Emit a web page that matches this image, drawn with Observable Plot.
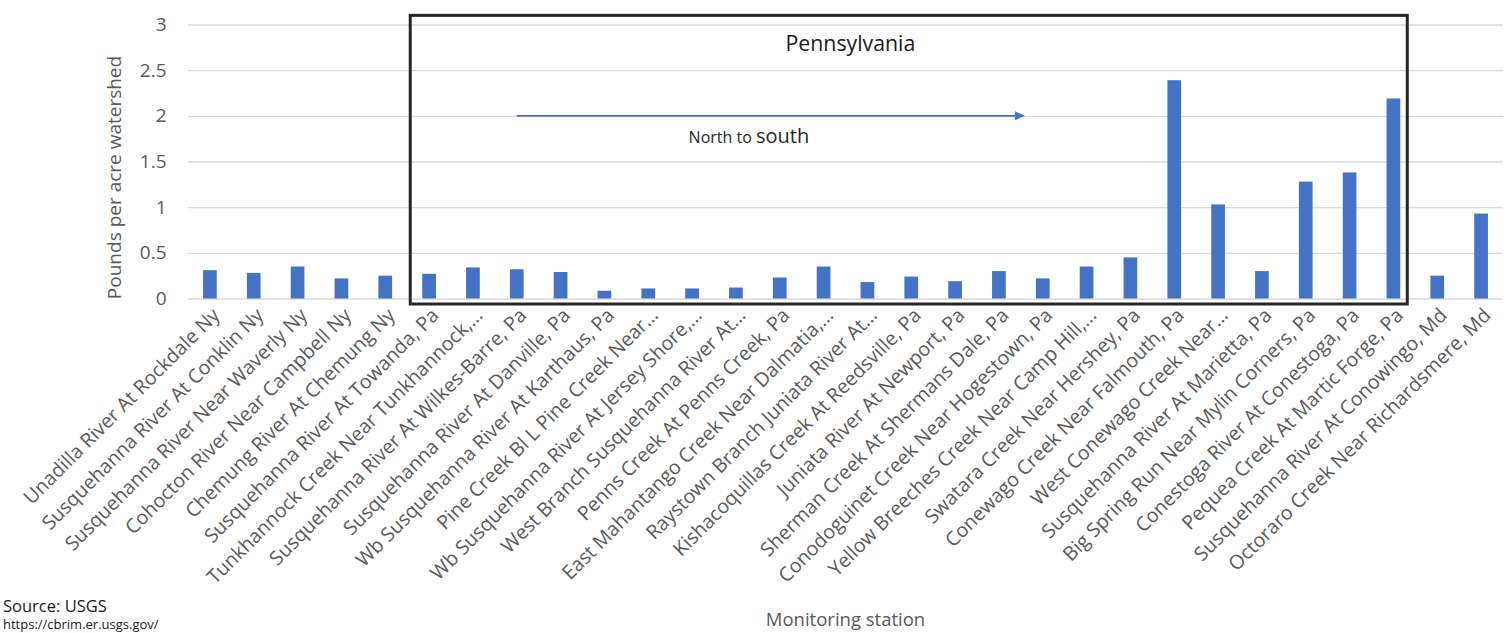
<!DOCTYPE html>
<html><head><meta charset="utf-8">
<script src="https://cdn.jsdelivr.net/npm/d3@7"></script>
<script src="https://cdn.jsdelivr.net/npm/@observablehq/plot@0.6"></script>
<style>
body{margin:0;background:#fff;}
#chart{position:relative;width:1510px;height:633px;overflow:hidden;}
</style></head><body><div id="chart"></div>
<script>
const stations = [
  "Unadilla River At Rockdale Ny",
  "Susquehanna River At Conklin Ny",
  "Susquehanna River Near Waverly Ny",
  "Cohocton River Near Campbell Ny",
  "Chemung River At Chemung Ny",
  "Susquehanna River At Towanda, Pa",
  "Tunkhannock Creek Near Tunkhannock,…",
  "Susquehanna River At Wilkes-Barre, Pa",
  "Susquehanna River At Danville, Pa",
  "Wb Susquehanna River At Karthaus, Pa",
  "Pine Creek Bl L Pine Creek Near…",
  "Wb Susquehanna River At Jersey Shore,…",
  "West Branch Susquehanna River At…",
  "Penns Creek At Penns Creek, Pa",
  "East Mahantango Creek Near Dalmatia,…",
  "Raystown Branch Juniata River At…",
  "Kishacoquillas Creek At Reedsville, Pa",
  "Juniata River At Newport, Pa",
  "Sherman Creek At Shermans Dale, Pa",
  "Conodoguinet Creek Near Hogestown, Pa",
  "Yellow Breeches Creek Near Camp Hill,…",
  "Swatara Creek Near Hershey, Pa",
  "Conewago Creek Near Falmouth, Pa",
  "West Conewago Creek Near…",
  "Susquehanna River At Marietta, Pa",
  "Big Spring Run Near Mylin Corners, Pa",
  "Conestoga River At Conestoga, Pa",
  "Pequea Creek At Martic Forge, Pa",
  "Susquehanna River At Conowingo, Md",
  "Octoraro Creek Near Richardsmere, Md"
];
const values = [
  0.31, 0.28, 0.35, 0.22, 0.25, 0.27, 0.34, 0.32, 0.29, 0.085,
  0.11, 0.11, 0.12, 0.23, 0.35, 0.18, 0.24, 0.19, 0.30, 0.22,
  0.35, 0.45, 2.39, 1.03, 0.30, 1.28, 1.38, 2.19, 0.25, 0.93
];
const yTicks = [0, 0.5, 1, 1.5, 2, 2.5, 3];
const yLabel = "Pounds per acre watershed";
const xLabel = "Monitoring station";
const regionLabel = "Pennsylvania";
const regionFirst = "Susquehanna River At Towanda, Pa";
const regionLast = "Pequea Creek At Martic Forge, Pa";
const arrowFrom = "Susquehanna River At Wilkes-Barre, Pa";
const arrowTo = "Sherman Creek At Shermans Dale, Pa";
const arrowValue = 2;
const arrowText = ["North to ", "south"];
const sourceLines = ["Source: USGS", "https://cbrim.er.usgs.gov/"];

const data = stations.map((s, i) => ({station: s, value: values[i]}));

const FONT = "'Open Sans', 'DejaVu Sans', sans-serif";
const BLUE = "#4472C4";

function annotations(index, scales, vals, dims) {
  const x = scales.x, y = scales.y;
  const bw = typeof x.bandwidth === "function" ? x.bandwidth() : 13.7;
  const cx = (s) => x(s) + bw / 2;
  const g = d3.create("svg:g").attr("font-family", FONT);

  // Pennsylvania box
  const left = x(regionFirst) - 12;
  const right = x(regionLast) + bw + 7;
  const top = y(3.1);
  const bottom = y(0) + 5.5;
  g.append("rect")
    .attr("x", left).attr("y", top)
    .attr("width", right - left).attr("height", bottom - top)
    .attr("fill", "none").attr("stroke", "#262626").attr("stroke-width", 3);

  g.append("text")
    .attr("x", cx(stations[15]) - 17).attr("y", y(2.787))
    .attr("dy", "0.35em").attr("text-anchor", "middle")
    .attr("font-size", 21.3).attr("fill", "#1a1a1a")
    .text(regionLabel);

  // Arrow
  const ax1 = cx(arrowFrom), ax2 = cx(arrowTo) + 26, ay = y(arrowValue);
  g.append("line")
    .attr("x1", ax1).attr("x2", ax2 - 9).attr("y1", ay).attr("y2", ay)
    .attr("stroke", BLUE).attr("stroke-width", 1.6);
  g.append("path")
    .attr("d", `M${ax2},${ay}L${ax2 - 10},${ay - 4.5}L${ax2 - 10},${ay + 4.5}Z`)
    .attr("fill", BLUE);

  const t = g.append("text")
    .attr("x", cx(stations[12]) + 13).attr("y", y(1.77))
    .attr("dy", "0.35em").attr("text-anchor", "middle")
    .attr("fill", "#262626");
  t.append("tspan").attr("font-size", 16).text(arrowText[0]);
  t.append("tspan").attr("font-size", 20).text(arrowText[1]);

  // Axis titles
  const yMid = (y(0) + y(3)) / 2 + 16;
  g.append("text")
    .attr("transform", `translate(${dims.marginLeft - 74},${yMid}) rotate(-90)`)
    .attr("dy", "0.35em").attr("text-anchor", "middle")
    .attr("font-size", 19).attr("fill", "#595959")
    .text(yLabel);

  const xMid = (dims.marginLeft + dims.width - dims.marginRight) / 2;
  g.append("text")
    .attr("x", xMid).attr("y", dims.height - 13)
    .attr("dy", "0.35em").attr("text-anchor", "middle")
    .attr("font-size", 18.5).attr("fill", "#595959")
    .text(xLabel);

  // Source
  sourceLines.forEach((line, i) => {
    g.append("text")
      .attr("x", 3).attr("y", dims.height - 21 + i * 16.5)
      .attr("text-anchor", "start")
      .attr("font-size", i === 0 ? 16.5 : 13).attr("fill", "#1a1a1a")
      .text(line);
  });
  return g.node();
}

const chart = Plot.plot({
  width: 1510,
  height: 633,
  marginLeft: 188,
  marginRight: 7,
  marginTop: 24.5,
  marginBottom: 334.5,
  style: {fontFamily: FONT, fontSize: "19px", color: "#595959", background: "#fff"},
  x: {domain: stations, paddingInner: 0.6875, paddingOuter: 0.34375, round: false},
  y: {domain: [0, 3]},
  marks: [
    Plot.gridY(yTicks, {stroke: "#d9d9d9", strokeOpacity: 1, strokeWidth: 1.3}),
    Plot.barY(data, {x: "station", y: "value", fill: BLUE}),
    Plot.axisY({ticks: yTicks, tickSize: 0, tickPadding: 22, tickFormat: d => String(d), label: null, fontSize: 19, fill: "#595959"}),
    Plot.axisX({tickRotate: -45, tickSize: 0, tickPadding: 13, dx: 6, label: null, fontSize: 19.6, fill: "#595959"}),
    annotations
  ]
});
document.getElementById("chart").appendChild(chart);
</script>
</body></html>
